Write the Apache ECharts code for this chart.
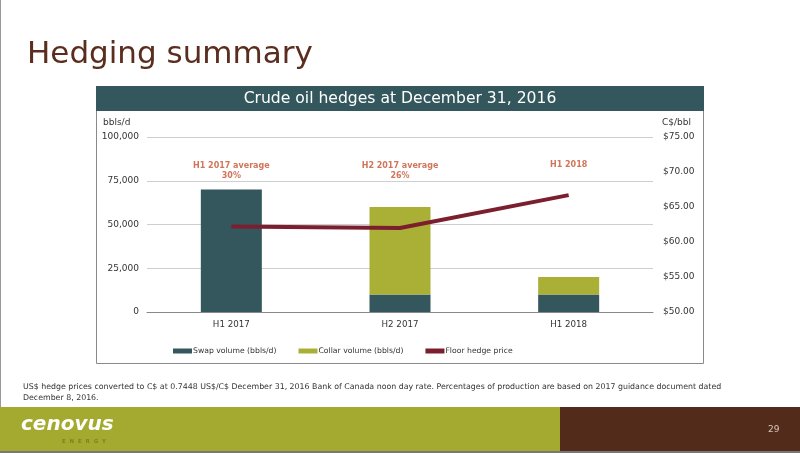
<!DOCTYPE html>
<html><head><meta charset="utf-8">
<script src="https://cdn.jsdelivr.net/npm/echarts@6/dist/echarts.min.js"></script>
<style>html,body{margin:0;padding:0;background:#fff}#c{width:800px;height:453px}</style>
</head><body><div id="c"></div>
<script>
const categories = ['H1 2017', 'H2 2017', 'H1 2018'];
const swapVolume = [70000, 10000, 10000];
const collarVolume = [0, 50000, 10000];
const floorPrice = [62.2, 62.0, 66.7];
const annotations = ['H1 2017 average\n30%', 'H2 2017 average\n26%', 'H1 2018'];
const annotationLevel = [80500, 80500, 84000];
const leftTicks = [0, 25000, 50000, 75000, 100000];
const rightTicks = [50, 55, 60, 65, 70, 75];

const F = 'DejaVu Sans, Verdana, sans-serif';
const chart = echarts.init(document.getElementById('c'), null, {renderer: 'canvas'});
chart.setOption({
  animation: false,
  backgroundColor: '#fff',
  textStyle: {fontFamily: F},
  graphic: [
    {type: 'rect', shape: {x: 0, y: 0, width: 1, height: 453}, style: {fill: '#999'}},
    {type: 'text', left: 27, top: 39, style: {text: 'Hedging summary', font: '31px ' + F, fill: '#5a2d1e'}},
    {type: 'rect', shape: {x: 96.5, y: 86.5, width: 607, height: 277}, style: {fill: 'none', stroke: '#8a8a8a', lineWidth: 1}, z: 1},
    {type: 'rect', shape: {x: 96, y: 86, width: 608, height: 25}, style: {fill: '#34575e'}, z: 2},
    {type: 'text', x: 400, y: 99, style: {text: 'Crude oil hedges at December 31, 2016', font: '15.6px ' + F, fill: '#fff', align: 'center', verticalAlign: 'middle'}, z: 3},
    {type: 'text', left: 23, top: 381, style: {text: 'US$ hedge prices converted to C$ at 0.7448 US$/C$ December 31, 2016 Bank of Canada noon day rate. Percentages of production are based on 2017 guidance document dated\nDecember 8, 2016.', font: '7.85px ' + F, fill: '#333', lineHeight: 11}},
    {type: 'rect', shape: {x: 0, y: 407, width: 560, height: 44}, style: {fill: '#a3aa2f'}},
    {type: 'rect', shape: {x: 560, y: 407, width: 240, height: 44}, style: {fill: '#532b1b'}},
    {type: 'rect', shape: {x: 0, y: 451, width: 800, height: 2}, style: {fill: '#777'}},
    {type: 'text', left: 21, top: 415, style: {text: 'cenovus', font: 'italic bold 20px ' + F, fill: '#fff'}},
    {type: 'text', left: 62, top: 439, style: {text: 'E  N  E  R  G  Y', font: 'bold 5.5px ' + F, fill: '#7d8420'}},
    {type: 'text', left: 768, top: 425, style: {text: '29', font: '9px ' + F, fill: '#d8c8b8'}}
  ],
  grid: {left: 147, right: 147, top: 137, bottom: 141},
  legend: {
    top: 347, left: 173, padding: 0, itemWidth: 19, itemHeight: 5, itemGap: 22, icon: 'rect',
    textStyle: {fontSize: 7.7, color: '#333', fontFamily: F, padding: [0, 0, 0, -4]},
    data: ['Swap volume (bbls/d)', 'Collar volume (bbls/d)', 'Floor hedge price']
  },
  xAxis: {
    type: 'category', data: categories,
    axisLine: {lineStyle: {color: '#888'}}, axisTick: {show: false},
    axisLabel: {fontSize: 8.7, color: '#333', margin: 8}
  },
  yAxis: [
    {
      type: 'value', min: leftTicks[0], max: leftTicks[leftTicks.length - 1], interval: 25000,
      name: 'bbls/d', nameLocation: 'end', nameGap: 10,
      nameTextStyle: {fontSize: 9, color: '#333', align: 'left', padding: [0, 0, 0, -44]},
      axisLabel: {fontSize: 9, color: '#333', margin: 8, formatter: v => v.toLocaleString('en-US')},
      splitLine: {lineStyle: {color: '#cfcfcf'}}, axisLine: {show: false}, axisTick: {show: false}
    },
    {
      type: 'value', min: rightTicks[0], max: rightTicks[rightTicks.length - 1], interval: 5,
      name: 'C$/bbl', nameLocation: 'end', nameGap: 10,
      nameTextStyle: {fontSize: 9, color: '#333', align: 'left', padding: [0, 0, 0, 9]},
      axisLabel: {fontSize: 9, color: '#333', margin: 10, formatter: v => '$' + v.toFixed(2)},
      splitLine: {show: false}, axisLine: {show: false}, axisTick: {show: false}
    }
  ],
  series: [
    {name: 'Swap volume (bbls/d)', type: 'bar', stack: 'v', data: swapVolume, barWidth: 61, itemStyle: {color: '#34575e'}},
    {name: 'Collar volume (bbls/d)', type: 'bar', stack: 'v', data: collarVolume, barWidth: 61, itemStyle: {color: '#a9b035'}},
    {name: 'Floor hedge price', type: 'line', yAxisIndex: 1, data: floorPrice, symbol: 'none',
      lineStyle: {color: '#7b1f2e', width: 4}, itemStyle: {color: '#7b1f2e'}, z: 5},
    {name: 'annot', type: 'scatter', symbolSize: 0, silent: true,
      data: annotationLevel.map((v, i) => ({value: [categories[i], v], label: {formatter: annotations[i]}})),
      label: {show: true, position: 'inside', fontSize: 8, fontWeight: 'bold', color: '#c4532e', lineHeight: 10, align: 'center', verticalAlign: 'middle'}}
  ]
});
</script></body></html>
